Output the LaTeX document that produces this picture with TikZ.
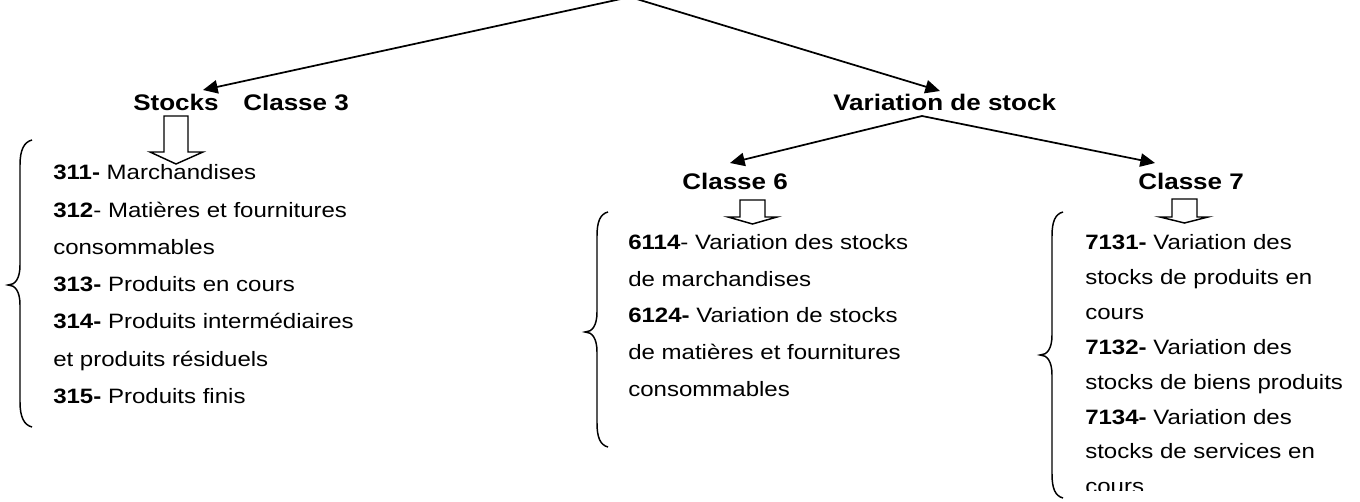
\documentclass[tikz,border=0pt]{standalone}
\usepackage{fontspec}
\setmainfont{Liberation Sans}[FakeStretch=1.155]
\usetikzlibrary{arrows.meta}
\tikzset{
  hdr/.style={font=\bfseries\fontsize{16.9}{20}\selectfont, anchor=base west, inner sep=0pt},
  itm/.style={font=\fontsize{15.6}{18}\selectfont, anchor=base west, inner sep=0pt},
  arr/.style={-{Triangle[length=11pt,width=10pt]}, line width=1.3pt},
  bracestyle/.style={line width=1.1pt},
  blockarr/.style={line width=1.1pt, line join=miter}
}
\begin{document}
\begin{tikzpicture}[x=0.75pt,y=-0.75pt]
\clip (0,0) rectangle (1360,502);
\fill[white] (0,0) rectangle (1360,502);

% headers
\node[hdr] (stk) at (133,111) {Stocks\hspace{18.5pt}Classe 3};
\node[hdr] (var) at (833,111) {Variation de stock};
\node[hdr] (c6) at (682,190) {Classe 6};
\node[hdr] (c7) at (1138,190) {Classe 7};

% connector points
\coordinate (apex) at (630,-3);
\coordinate (tipS) at (203,90);
\coordinate (tipV) at (940,91);
\coordinate (fork) at (922,116);
\coordinate (tip6) at (730,163);
\coordinate (tip7) at (1155,163);

\draw[arr] (apex) -- (tipS);
\draw[arr] (apex) -- (tipV);
\draw[arr] (fork) -- (tip6);
\draw[arr] (fork) -- (tip7);

% hollow block arrows
\draw[blockarr] (164,116) -- (188,116) -- (188,152) -- (203,152) -- (176,164) -- (150,152) -- (164,152) -- cycle;
\draw[blockarr] (740,200) -- (765,200) -- (765,217) -- (777,217) -- (752.5,224) -- (728,217) -- (740,217) -- cycle;
\draw[blockarr] (1172,199) -- (1197,199) -- (1197,217) -- (1208,217) -- (1184.5,223) -- (1160,217) -- (1172,217) -- cycle;

% braces
\draw[bracestyle] (32,140) .. controls (24,142) and (20,150) .. (20,165) -- (20,265)
  .. controls (20,279) and (15,285) .. (8,285) .. controls (15,285) and (20,291) .. (20,305)
  -- (20,402) .. controls (20,417) and (24,425) .. (32,427);
\draw[bracestyle] (608,212) .. controls (600,214) and (597,222) .. (597,236) -- (597,312)
  .. controls (597,326) and (592,332) .. (585,332) .. controls (592,332) and (597,338) .. (597,352)
  -- (597,423) .. controls (597,437) and (600,445) .. (608,447);
\draw[bracestyle] (1063,212) .. controls (1055,214) and (1052,222) .. (1052,236) -- (1052,335)
  .. controls (1052,349) and (1047,355) .. (1040,355) .. controls (1047,355) and (1052,361) .. (1052,375)
  -- (1052,474) .. controls (1052,488) and (1055,496) .. (1063,498);

% left column
\foreach \t [count=\i] in {\textbf{311-} Marchandises,
  \textbf{312}- Matières et fournitures,
  consommables,
  \textbf{313-} Produits en cours,
  \textbf{314-} Produits intermédiaires,
  et produits résiduels,
  \textbf{315-} Produits finis}
  \node[itm] (L\i) at (53,{180+37.2*(\i-1)}) {\t};

% middle column
\foreach \t [count=\i] in {\textbf{6114}- Variation des stocks,
  de marchandises,
  \textbf{6124-} Variation de stocks,
  de matières et fournitures,
  consommables}
  \node[itm] (M\i) at (628,{250+36.5*(\i-1)}) {\t};

% right column (clipped text box)
\begin{scope}
\clip (1070,200) rectangle (1360,490);
\foreach \t [count=\i] in {\textbf{7131-} Variation des,
  stocks de produits en,
  cours,
  \textbf{7132-} Variation des,
  stocks de biens produits,
  \textbf{7134-} Variation des,
  stocks de services en,
  cours}
  \node[itm] (R\i) at (1085,{250+34.8*(\i-1)}) {\t};
\end{scope}
\end{tikzpicture}
\end{document}
